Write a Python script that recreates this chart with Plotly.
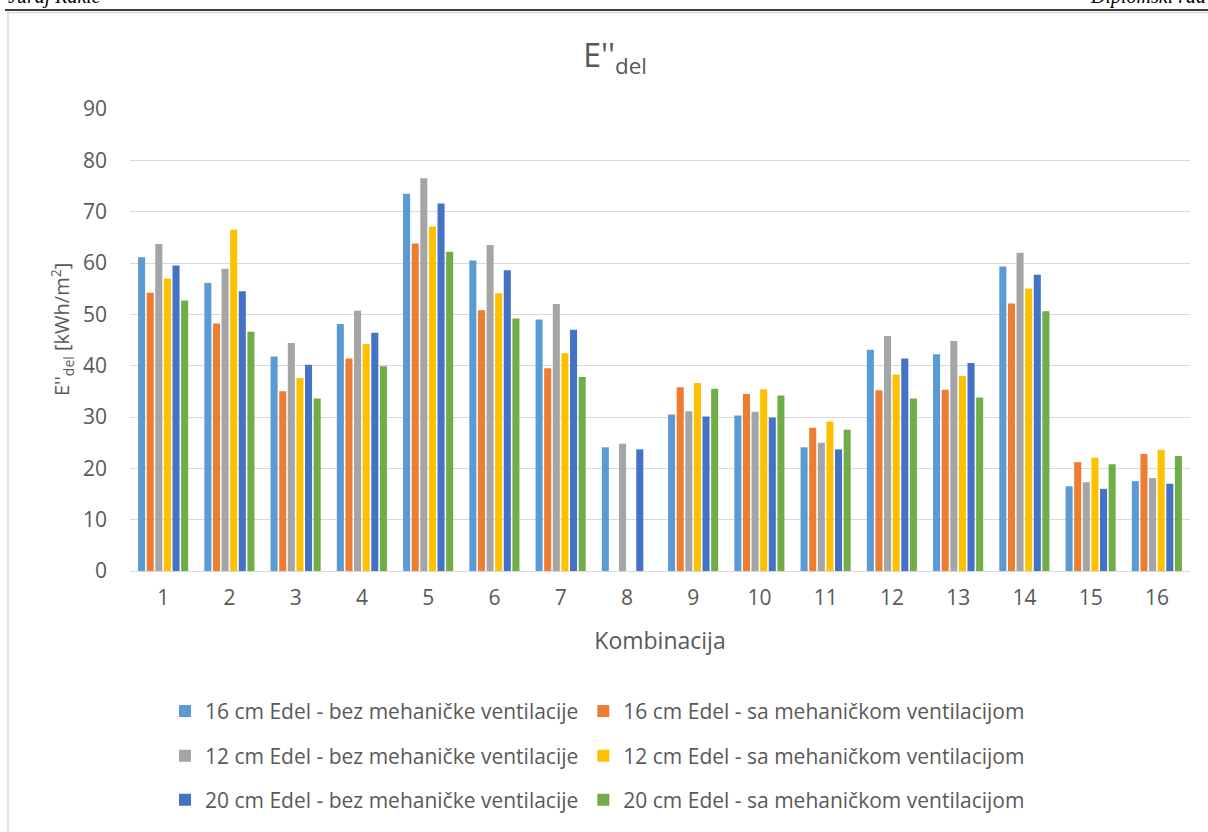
import plotly.graph_objects as go

categories = [str(i) for i in range(1, 17)]

s16_bez = [61.1, 56.1, 41.8, 48.1, 73.5, 60.5, 49.0, 24.1, 30.5, 30.3, 24.1, 43.1, 42.2, 59.3, 16.5, 17.5]
s16_sa  = [54.2, 48.2, 35.0, 41.4, 63.8, 50.8, 39.5, None, 35.8, 34.5, 27.9, 35.2, 35.3, 52.1, 21.2, 22.8]
s12_bez = [63.7, 58.9, 44.4, 50.7, 76.5, 63.5, 52.0, 24.8, 31.1, 31.0, 25.0, 45.8, 44.8, 62.0, 17.3, 18.1]
s12_sa  = [57.0, 66.5, 37.6, 44.2, 67.1, 54.1, 42.4, None, 36.6, 35.4, 29.1, 38.3, 38.0, 55.0, 22.1, 23.6]
s20_bez = [59.5, 54.5, 40.2, 46.4, 71.6, 58.6, 47.0, 23.7, 30.1, 29.9, 23.7, 41.4, 40.5, 57.7, 16.0, 17.0]
s20_sa  = [52.7, 46.6, 33.6, 39.9, 62.2, 49.2, 37.8, None, 35.5, 34.2, 27.5, 33.6, 33.8, 50.6, 20.8, 22.4]

series_names = [
    "16 cm Edel - bez mehaničke ventilacije",
    "16 cm Edel - sa mehaničkom ventilacijom",
    "12 cm Edel - bez mehaničke ventilacije",
    "12 cm Edel - sa mehaničkom ventilacijom",
    "20 cm Edel - bez mehaničke ventilacije",
    "20 cm Edel - sa mehaničkom ventilacijom",
]
series_values = [s16_bez, s16_sa, s12_bez, s12_sa, s20_bez, s20_sa]
colors = ["#5B9BD5", "#ED7D31", "#A5A5A5", "#FFC000", "#4472C4", "#70AD47"]
legend_ids = ["legend", "legend", "legend2", "legend2", "legend3", "legend3"]

FONT = "Open Sans"
TXT = "#595959"

W, H = 1208, 832
ML, MR, MT, MB = 130, 18, 109, 259
PW = W - ML - MR
PH = H - MT - MB


def px(x):
    return (x - ML) / PW


def py(y):
    return (H - MB - y) / PH


fig = go.Figure()
for name, vals, col, lg in zip(series_names, series_values, colors, legend_ids):
    fig.add_trace(go.Bar(
        x=categories, y=vals, name=name, legend=lg,
        marker=dict(color=col, line=dict(width=0)),
    ))

leg_common = dict(
    orientation="h", xanchor="left", yanchor="middle",
    font=dict(family=FONT, size=21, color=TXT),
    bgcolor="rgba(0,0,0,0)",
    traceorder="normal",
)

fig.update_layout(
    width=W, height=H,
    margin=dict(l=ML, r=MR, t=MT, b=MB, pad=0),
    paper_bgcolor="white", plot_bgcolor="white",
    barmode="group", bargap=0.22, bargroupgap=0.18,
    font=dict(family=FONT, color=TXT),
    title=dict(
        text="E''<sub>del</sub>", xref="container", x=615 / W, xanchor="center",
        yref="container", y=1 - 56 / H, yanchor="middle",
        font=dict(family=FONT, size=32, color=TXT),
    ),
    xaxis=dict(
        showgrid=False, showline=True, linecolor="#D9D9D9", linewidth=1,
        ticks="", ticklabelstandoff=8, tickfont=dict(family=FONT, size=21, color=TXT),
        title=dict(text="Kombinacija", font=dict(family=FONT, size=23, color=TXT), standoff=22),
    ),
    yaxis=dict(
        range=[0, 90], dtick=10, showgrid=True, gridcolor="#D9D9D9", gridwidth=1,
        zeroline=False, showline=False, ticks="", ticklabelstandoff=22,
        tickfont=dict(family=FONT, size=21, color=TXT),
    ),
    legend=dict(x=px(165), y=py(714), **leg_common),
    legend2=dict(x=px(165), y=py(759), **leg_common),
    legend3=dict(x=px(165), y=py(803), **leg_common),
    showlegend=True,
)

# y axis title, placed like the reference (slightly above plot centre)
fig.add_annotation(text="E''<sub>del</sub> [kWh/m<sup>2</sup>]", xref="paper", yref="paper",
                   x=px(62), y=py(331), xanchor="center", yanchor="middle", textangle=-90,
                   showarrow=False, font=dict(family=FONT, size=20, color=TXT))

# page frame: header rule, chart border
fig.add_shape(type="rect", xref="paper", yref="paper",
              x0=px(8), x1=px(1230), y0=py(850), y1=py(12),
              line=dict(color="#D9D9D9", width=1.5), fillcolor="rgba(0,0,0,0)", layer="below")
fig.add_shape(type="line", xref="paper", yref="paper",
              x0=px(5), x1=px(1215), y0=py(9.5), y1=py(9.5),
              line=dict(color="black", width=1.5))

fig.add_annotation(text="Juraj Rakić", xref="paper", yref="paper",
                   x=px(6), y=py(10), xanchor="left", yanchor="bottom", showarrow=False,
                   font=dict(family="Liberation Serif", size=20, color="black", style="italic"))
fig.add_annotation(text="Diplomski rad", xref="paper", yref="paper",
                   x=px(1088), y=py(10), xanchor="left", yanchor="bottom", showarrow=False,
                   font=dict(family="Liberation Serif", size=20, color="black", style="italic"))

fig.write_html("out.html", config={"displayModeBar": False},
               post_script="document.body.style.margin='0';document.body.style.overflow='hidden';")
